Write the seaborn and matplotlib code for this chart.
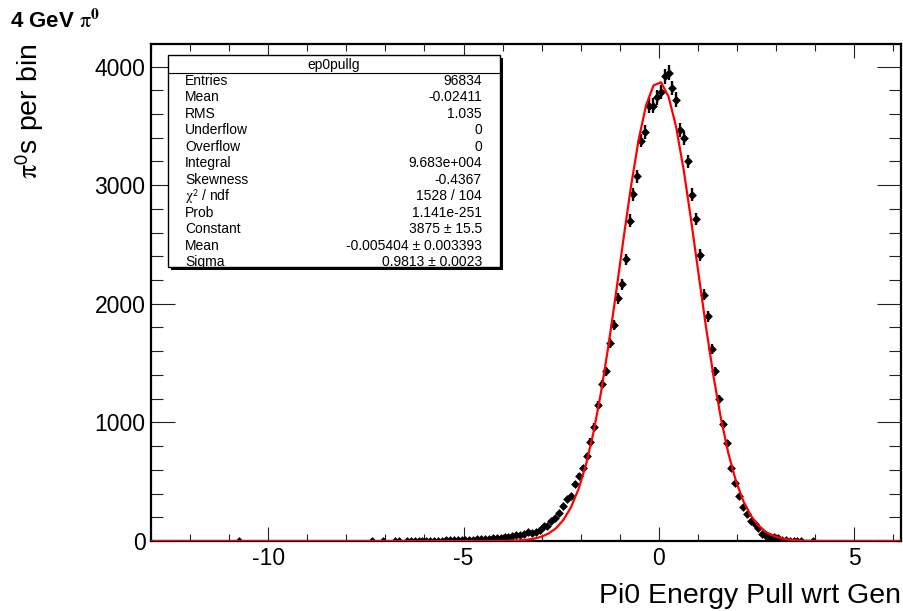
import numpy as np
import pandas as pd
import matplotlib
matplotlib.use("Agg")
import matplotlib.pyplot as plt
from matplotlib.patches import Rectangle
from matplotlib.lines import Line2D
from matplotlib.ticker import MultipleLocator
import seaborn as sns

# ---- histogram "ep0pullg": bin centres (width 0.1) and entries per bin ----
bin_centers = [
    -10.75, -7.35, -7.05, -6.75, -6.65, -6.45, -6.35, -6.25, -6.15, -6.05,
    -5.95, -5.85, -5.75, -5.65, -5.55, -5.45, -5.35, -5.25, -5.15, -5.05,
    -4.95, -4.85, -4.75, -4.65, -4.55, -4.45, -4.35, -4.25, -4.15, -4.05,
    -3.95, -3.85, -3.75, -3.65, -3.55, -3.45, -3.35, -3.25, -3.15, -3.05,
    -2.95, -2.85, -2.75, -2.65, -2.55, -2.45, -2.35, -2.25, -2.15, -2.05,
    -1.95, -1.85, -1.75, -1.65, -1.55, -1.45, -1.35, -1.25, -1.15, -1.05,
    -0.95, -0.85, -0.75, -0.65, -0.55, -0.45, -0.35, -0.25, -0.15, -0.05,
    0.05, 0.15, 0.25, 0.35, 0.45, 0.55, 0.65, 0.75, 0.85, 0.95,
    1.05, 1.15, 1.25, 1.35, 1.45, 1.55, 1.65, 1.75, 1.85, 1.95,
    2.05, 2.15, 2.25, 2.35, 2.45, 2.55, 2.65, 2.75, 2.85, 2.95,
    3.05, 3.15, 3.25, 3.35, 3.45, 3.55, 3.65, 3.95,
]
bin_counts = [
    1, 1, 1, 2, 1, 2, 1, 2, 2, 3,
    2, 3, 4, 3, 4, 5, 5, 6, 7, 8,
    10, 11, 12, 14, 16, 18, 20, 22, 25, 28,
    31, 36, 42, 47, 54, 62, 73, 68, 80, 92,
    125, 127, 171, 197, 239, 295, 352, 380, 481, 549,
    613, 717, 838, 965, 1148, 1325, 1429, 1668, 1823, 2045,
    2163, 2375, 2702, 2923, 3074, 3376, 3449, 3671, 3671, 3741,
    3786, 3918, 3946, 3820, 3722, 3468, 3398, 3201, 2920, 2716,
    2410, 2076, 1893, 1618, 1429, 1196, 985, 824, 613, 487,
    380, 290, 228, 165, 140, 107, 60, 42, 31, 30,
    22, 12, 6, 4, 3, 3, 2, 1,
]
bin_width = 0.1

# ---- Gaussian fit result ----
fit_constant = 3875.0
fit_mean = -0.005404
fit_sigma = 0.9813

# ---- statistics box ----
stats_title = "ep0pullg"
stats_labels = ["Entries", "Mean", "RMS", "Underflow", "Overflow", "Integral",
                "Skewness", r"$\mathrm{\chi}^{\mathsf{2}}$ / ndf", "Prob",
                "Constant", "Mean", "Sigma"]
stats_values = ["96834", "-0.02411", "1.035", "0", "0", "9.683e+004",
                "-0.4367", "1528 / 104", "1.141e-251", "3875 \u00b1 15.5",
                "-0.005404 \u00b1 0.003393", "0.9813 \u00b1 0.0023"]

x_range = (-13.0, 6.2)
y_range = (0, 4190)
x_ticks = [-10, -5, 0, 5]
y_ticks = [0, 1000, 2000, 3000, 4000]

sns.set_theme(style="ticks")
plt.rcParams["font.family"] = ["Liberation Sans", "DejaVu Sans"]
plt.rcParams["mathtext.fontset"] = "stix"
plt.rcParams["axes.unicode_minus"] = False
plt.rcParams["text.color"] = "black"

W, H = 904, 611
fig = plt.figure(figsize=(W / 100, H / 100), dpi=100)
fig.patch.set_facecolor("white")


def fx(px):
    return px / W


def fy(py):
    return 1 - py / H


ax = fig.add_axes([fx(151), fy(541), fx(901) - fx(151), fy(44) - fy(541)])
ax.set_facecolor("white")

hist = pd.DataFrame({"x": bin_centers, "n": bin_counts})
hist["err"] = np.sqrt(hist["n"])

# fitted Gaussian drawn as a polyline, as ROOT samples it
xf = np.linspace(x_range[0], x_range[1], 101)
fit = pd.DataFrame({"x": xf,
                    "y": fit_constant * np.exp(-0.5 * ((xf - fit_mean) / fit_sigma) ** 2)})

ax.errorbar(hist["x"], hist["n"], yerr=hist["err"], xerr=bin_width / 2,
            fmt="none", ecolor="black", elinewidth=1.7, capsize=0, zorder=3)
sns.scatterplot(data=hist, x="x", y="n", ax=ax, color="black", marker="D",
                s=20, linewidth=0, zorder=4, legend=False)
sns.lineplot(data=fit, x="x", y="y", ax=ax, color="#ff0000", linewidth=1.6,
             zorder=5, legend=False)

ax.set_xlim(*x_range)
ax.set_ylim(*y_range)
ax.set_xticks(x_ticks)
ax.set_yticks(y_ticks)
ax.xaxis.set_minor_locator(MultipleLocator(1))
ax.yaxis.set_minor_locator(MultipleLocator(200))
ax.set_xlabel("")
ax.set_ylabel("")

for s in ax.spines.values():
    s.set_linewidth(1.6)
    s.set_color("black")

ax.tick_params(axis="both", which="both", direction="in", top=True, right=True,
               color="#222222", width=0.8, labelsize=16.5, labelcolor="black")
ax.tick_params(axis="x", which="major", length=10, pad=4)
ax.tick_params(axis="x", which="minor", length=5)
ax.tick_params(axis="y", which="major", length=17, pad=4)
ax.tick_params(axis="y", which="minor", length=8.5)

# axis titles and heading
fig.text(fx(901), fy(603), "Pi0 Energy Pull wrt Gen", ha="right", va="baseline",
         fontsize=20.5, color="black")
fig.text(fx(30), fy(44), r"$\mathrm{\pi}^{\mathsf{0}}$s per bin", rotation=90,
         ha="center", va="top", fontsize=20.5, color="black")
fig.text(fx(10), fy(28), r"4 GeV $\mathrm{\pi}^{\mathbf{0}}$", ha="left",
         va="baseline", fontsize=16, fontweight="bold", color="black")

# statistics box with drop shadow
bx0, bx1, by0, by1 = 168, 500, 55, 267
fig.patches.append(Rectangle((fx(bx0 + 3), fy(by1 + 3)), fx(bx1) - fx(bx0),
                             fy(by0) - fy(by1), transform=fig.transFigure,
                             facecolor="black", edgecolor="none", zorder=10))
fig.patches.append(Rectangle((fx(bx0), fy(by1)), fx(bx1) - fx(bx0),
                             fy(by0) - fy(by1), transform=fig.transFigure,
                             facecolor="white", edgecolor="black", linewidth=1.0,
                             zorder=11))
fig.lines.append(Line2D([fx(bx0), fx(bx1)], [fy(73), fy(73)],
                        transform=fig.transFigure, color="black", linewidth=0.8,
                        zorder=12))
fig.text(fx((bx0 + bx1) / 2), fy(64.5), stats_title, ha="center", va="center",
         fontsize=10, zorder=13, color="black")
for i, (lab, val) in enumerate(zip(stats_labels, stats_values)):
    yc = 80.7 + i * 16.5
    fig.text(fx(185), fy(yc), lab, ha="left", va="center", fontsize=10,
             zorder=13, color="black")
    fig.text(fx(482), fy(yc), val, ha="right", va="center", fontsize=10,
             zorder=13, color="black")

fig.savefig("out.png", dpi=100, facecolor="white")
